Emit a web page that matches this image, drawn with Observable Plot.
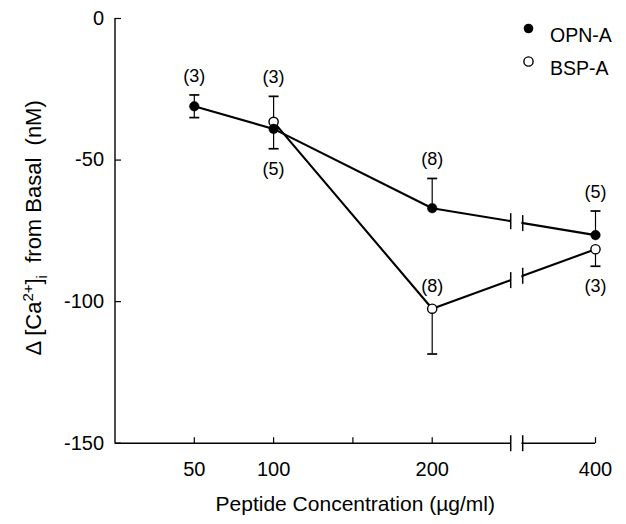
<!DOCTYPE html>
<html><head><meta charset="utf-8">
<script src="https://cdn.jsdelivr.net/npm/d3@7"></script>
<script src="https://cdn.jsdelivr.net/npm/@observablehq/plot@0.6"></script>
<style>
html,body{margin:0;padding:0;background:#fff;}
svg{display:block;}
</style></head><body><div id="chart"></div>
<script>
const seriesNames = ["OPN-A", "BSP-A"];
const opnConc = [50, 100, 200, 400];
const opnMean = [-31, -39, -67, -76.5];
const opnErr = [4, 7, 10.5, 8.5];
const opnN = ["(3)", "(5)", "(8)", "(5)"];
const opnBarDir = ["both", "down", "up", "up"];
const opnLabelSide = ["above", "below", "above", "above"];
const bspConc = [100, 200, 400];
const bspMean = [-36.5, -102.5, -81.5];
const bspErr = [9, 16, 6];
const bspN = ["(3)", "(8)", "(3)"];
const bspBarDir = ["up", "down", "down"];
const bspLabelSide = ["above", "above", "below"];
const xTicks = [50, 100, 150, 200, 400];
const xTickLabels = [50, 100, 200, 400];
const yTicks = [0, -50, -100, -150];
const axisBreak = [249.5, 270];
const xTitle = "Peptide Concentration (µg/ml)";
const yTitle = "Δ [Ca2+]i  from Basal  (nM)";

const W = 626, H = 524, mL = 114.5, mR = 31, mT = 18, mB = 81.3;
const xDomain = [0, 250, 400];
const xRange = [mL, 511, W - mR];
const xs = d3.scaleLinear().domain(xDomain).range(xRange);

function build(name, conc, mean, err, n, dir, side) {
  return conc.map((c, i) => ({series: name, c, mean: mean[i], err: err[i], n: n[i], dir: dir[i], side: side[i]}));
}
const opn = build(seriesNames[0], opnConc, opnMean, opnErr, opnN, opnBarDir, opnLabelSide);
const bsp = build(seriesNames[1], bspConc, bspMean, bspErr, bspN, bspBarDir, bspLabelSide);
const all = [...opn, ...bsp];

const bars = [];
for (const d of all) {
  if (d.dir === "up" || d.dir === "both") bars.push({c: d.c, y1: d.mean, y2: d.mean + d.err});
  if (d.dir === "down" || d.dir === "both") bars.push({c: d.c, y1: d.mean, y2: d.mean - d.err});
}
const labels = all.map(d => {
  const up = d.side === "above";
  const hasBar = up ? (d.dir === "up" || d.dir === "both") : (d.dir === "down" || d.dir === "both");
  const y = hasBar ? (up ? d.mean + d.err : d.mean - d.err) : d.mean;
  return {c: d.c, y, n: d.n, kind: up ? (hasBar ? "aboveBar" : "abovePoint") : "below"};
});

// break markers where the lines cross the axis break
const breakPts = [];
for (const s of [opn, bsp]) {
  const a = s.find(d => d.c === 200), b = s.find(d => d.c === 400);
  for (const br of axisBreak) {
    const t = (xs(br) - xs(a.c)) / (xs(b.c) - xs(a.c));
    breakPts.push({c: br, y: a.mean + t * (b.mean - a.mean)});
  }
}
const axisBreakPts = axisBreak.map(br => ({c: br, y: yTicks[yTicks.length - 1]}));

const hcap = {draw(ctx) { ctx.moveTo(-5, 0); ctx.lineTo(5, 0); }};
const vbreak = {draw(ctx) { ctx.moveTo(0, -8); ctx.lineTo(0, 8); }};
const upTick = {draw(ctx) { ctx.moveTo(0, 0); ctx.lineTo(0, -6); }};
const rightTick = {draw(ctx) { ctx.moveTo(0, 0); ctx.lineTo(6, 0); }};

const font = "'Liberation Sans', Arial, Helvetica, sans-serif";
const yMin = yTicks[yTicks.length - 1];

const plot = Plot.plot({
  width: W, height: H,
  marginLeft: mL, marginRight: mR, marginTop: mT, marginBottom: mB,
  style: {fontFamily: font, fontSize: "20px", background: "white", color: "black"},
  x: {type: "linear", domain: xDomain, range: xRange, axis: null},
  y: {domain: [yMin, 0], range: [H - mB, mT], axis: null},
  marks: [
    Plot.line(all, {x: "c", y: "mean", z: "series", stroke: "black", strokeWidth: 2.1}),
    Plot.ruleX(bars, {x: "c", y1: "y1", y2: "y2", stroke: "black", strokeWidth: 1.2}),
    Plot.dot(bars, {x: "c", y: "y2", symbol: hcap, stroke: "black", fill: "none", strokeWidth: 1.7}),
    Plot.ruleY([yMin], {stroke: "black", strokeWidth: 1.6}),
    Plot.ruleX([0], {stroke: "black", strokeWidth: 1.4}),
    Plot.rect([axisBreak], {x1: d => d[0], x2: d => d[1], y1: () => yMin, y2: () => 0, fill: "white", insetBottom: -6, insetTop: -2, insetLeft: 0.8, insetRight: 0.8}),
    Plot.dot(breakPts, {x: "c", y: "y", symbol: vbreak, stroke: "black", fill: "none", strokeWidth: 1.5}),
    Plot.dot(axisBreakPts, {x: "c", y: "y", symbol: vbreak, stroke: "black", fill: "none", strokeWidth: 1.5}),
    Plot.dot(xTicks, {x: d => d, y: () => yMin, symbol: upTick, stroke: "black", fill: "none", strokeWidth: 1.2}),
    Plot.dot(yTicks, {x: () => 0, y: d => d, symbol: rightTick, stroke: "black", fill: "none", strokeWidth: 1.2}),
    Plot.dot(bsp, {x: "c", y: "mean", r: 4.6, fill: "white", stroke: "black", strokeWidth: 1.4}),
    Plot.dot(opn, {x: "c", y: "mean", r: 4.8, fill: "black", stroke: "black", strokeWidth: 0.5}),
    Plot.text(labels, {filter: d => d.kind === "aboveBar", x: "c", y: "y", text: "n", dy: -19, fontSize: 18}),
    Plot.text(labels, {filter: d => d.kind === "abovePoint", x: "c", y: "y", text: "n", dy: -22, fontSize: 18}),
    Plot.text(labels, {filter: d => d.kind === "below", x: "c", y: "y", text: "n", dy: 20, fontSize: 18}),
    Plot.text(yTicks, {x: () => 0, y: d => d, text: d => String(d), dx: -11, textAnchor: "end", fontSize: 20}),
    Plot.text(xTickLabels, {x: d => d, y: () => yMin, text: d => String(d), dy: 26.5, fontSize: 20}),
    Plot.text([xTitle], {frameAnchor: "bottom", text: d => d, dy: 68, textAnchor: "middle", fontSize: 21}),
    Plot.text([yTitle], {frameAnchor: "left", text: d => d, dx: -81.5, dy: -3, rotate: -90, textAnchor: "middle", fontSize: 22}),
    Plot.dot([seriesNames[0]], {frameAnchor: "top-left", dx: 528 - mL, dy: 10, r: 4.8, fill: "black"}),
    Plot.dot([seriesNames[1]], {frameAnchor: "top-left", dx: 528 - mL, dy: 43, r: 4.6, fill: "white", stroke: "black", strokeWidth: 1.4}),
    Plot.text([seriesNames[0]], {frameAnchor: "top-left", dx: 549.5 - mL, dy: 10, text: d => d, textAnchor: "start", fontSize: 19.5}),
    Plot.text([seriesNames[1]], {frameAnchor: "top-left", dx: 549.5 - mL, dy: 43, text: d => d, textAnchor: "start", fontSize: 19.5})
  ]
});

// rich text for the y title (superscript / subscript)
d3.select(plot).selectAll("text").filter(function() { return this.textContent === yTitle; }).each(function() {
  const t = d3.select(this);
  t.text(null).style("white-space", "pre").attr("text-anchor", "middle");
  t.append("tspan").text("Δ [Ca");
  t.append("tspan").attr("dy", -8).attr("font-size", 15).text("2+");
  t.append("tspan").attr("dy", 8).text("]");
  t.append("tspan").attr("dy", 6).attr("font-size", 15).text("i");
  t.append("tspan").attr("dy", -6).text("  from Basal  (nM)");
});

document.getElementById("chart").appendChild(plot);
</script>
</body></html>
